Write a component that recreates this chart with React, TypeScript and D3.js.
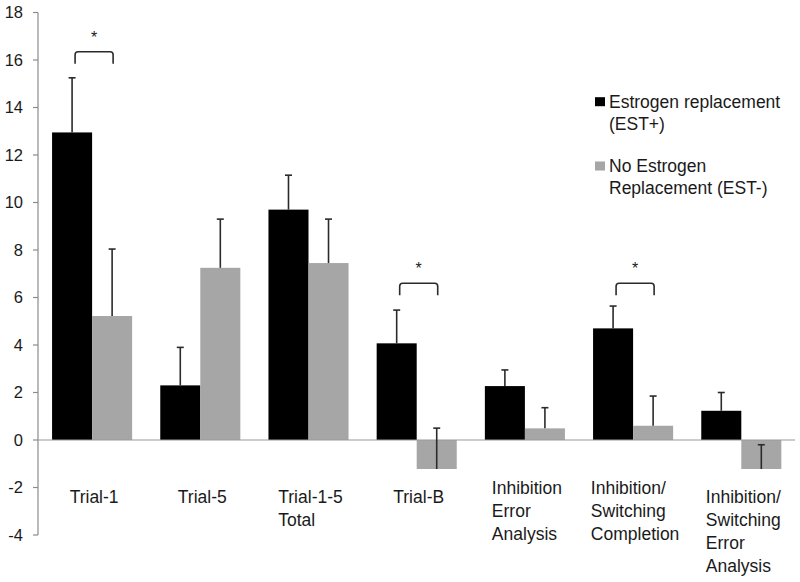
import React from "react";
import * as d3 from "d3";

const categories = [
  "Trial-1",
  "Trial-5",
  "Trial-1-5 Total",
  "Trial-B",
  "Inhibition Error Analysis",
  "Inhibition/ Switching Completion",
  "Inhibition/ Switching Error Analysis",
];
const categoryLines = [
  ["Trial-1"],
  ["Trial-5"],
  ["Trial-1-5", "Total"],
  ["Trial-B"],
  ["Inhibition", "Error", "Analysis"],
  ["Inhibition/", "Switching", "Completion"],
  ["Inhibition/", "Switching", "Error", "Analysis"],
];
const seriesNames = ["Estrogen replacement (EST+)", "No Estrogen Replacement (EST-)"];
const legendLines = [
  ["Estrogen replacement", "(EST+)"],
  ["No Estrogen", "Replacement (EST-)"],
];
const estPlus = [12.95, 2.3, 9.7, 4.07, 2.27, 4.7, 1.23];
const estPlusErr = [2.3, 1.6, 1.45, 1.4, 0.68, 0.94, 0.77];
const estMinus = [5.22, 7.25, 7.45, -1.22, 0.49, 0.6, -1.22];
const estMinusErr = [2.82, 2.05, 1.85, 1.72, 0.87, 1.25, 1.02];
const yTicks = [-4, -2, 0, 2, 4, 6, 8, 10, 12, 14, 16, 18];
const sigCategories = ["Trial-1", "Trial-B", "Inhibition/ Switching Completion"];
const sigLevels = [16.35, 6.6, 6.6];

const W = 800;
const H = 582;
const FONT = "'Liberation Sans', Arial, sans-serif";
const FS = 17.5;
const TICK_FS = 16.5;

let measureCtx: CanvasRenderingContext2D | null = null;
function textWidth(s: string) {
  if (!measureCtx) {
    const c = document.createElement("canvas");
    measureCtx = c.getContext("2d");
  }
  if (!measureCtx) return s.length * FS * 0.5;
  measureCtx.font = `${FS}px ${FONT}`;
  return measureCtx.measureText(s).width;
}

export default function App() {
  const y = d3.scaleLinear().domain([-4, 18]).range([535, 12.5]);
  const x = d3
    .scaleBand<string>()
    .domain(categories)
    .range([38, 795.4])
    .paddingInner(0.26)
    .paddingOuter(0.13);
  const xs = d3.scaleBand<string>().domain(["plus", "minus"]).range([0, x.bandwidth()]);
  const series = [
    { key: "plus", values: estPlus, errs: estPlusErr, color: "#000000" },
    { key: "minus", values: estMinus, errs: estMinusErr, color: "#a6a6a6" },
  ];
  const capW = 7;

  return (
    <svg
      width={W}
      height={H}
      style={{ position: "absolute", left: 0, top: 0, display: "block", background: "#fff" }}
      fontFamily={FONT}
    >
      <rect x={0} y={0} width={W} height={H} fill="#fff" />
      {/* bars */}
      {series.map((s) =>
        categories.map((c, i) => {
          const v = s.values[i];
          const bx = (x(c) as number) + (xs(s.key) as number);
          return (
            <rect
              key={s.key + c}
              x={bx}
              y={y(Math.max(0, v))}
              width={xs.bandwidth()}
              height={Math.abs(y(v) - y(0))}
              fill={s.color}
            />
          );
        })
      )}
      {/* zero line */}
      <line x1={38} x2={795} y1={y(0)} y2={y(0)} stroke="#9a9a9a" strokeWidth={1.2} />
      {/* error bars */}
      {series.map((s) =>
        categories.map((c, i) => {
          const v = s.values[i];
          const e = s.errs[i];
          const cx = (x(c) as number) + (xs(s.key) as number) + xs.bandwidth() / 2;
          return (
            <g key={"e" + s.key + c} stroke="#2b2b2b" strokeWidth={1.6}>
              <line x1={cx} x2={cx} y1={y(v)} y2={y(v + e)} />
              <line x1={cx - capW / 2} x2={cx + capW / 2} y1={y(v + e)} y2={y(v + e)} />
            </g>
          );
        })
      )}
      {/* y axis */}
      <line x1={38} x2={38} y1={y(18)} y2={y(-4)} stroke="#8c8c8c" strokeWidth={1.2} />
      {yTicks.map((t) => (
        <g key={"t" + t}>
          <line x1={33} x2={38} y1={y(t)} y2={y(t)} stroke="#8c8c8c" strokeWidth={1.2} />
          <text x={23} y={y(t)} dy="0.36em" textAnchor="end" fontSize={TICK_FS} fill="#1a1a1a">
            {t}
          </text>
        </g>
      ))}
      {/* category labels */}
      {categories.map((c, i) => {
        const lines = categoryLines[i];
        const maxW = d3.max(lines, (l) => textWidth(l)) || 0;
        const cx = (x(c) as number) + x.bandwidth() / 2;
        const left = cx - maxW / 2 + 2;
        const firstY = lines.length === 3 ? 488 : 497;
        return (
          <text key={"c" + c} fontSize={FS} fill="#1a1a1a">
            {lines.map((l, j) => (
              <tspan key={j} x={left} y={firstY + j * 23} dy="0.36em">
                {l}
              </tspan>
            ))}
          </text>
        );
      })}
      {/* significance brackets */}
      {sigCategories.map((c, i) => {
        const b0 = x(c) as number;
        const x1 = b0 + (xs("plus") as number) + xs.bandwidth() / 2 + 3;
        const x2 = b0 + (xs("minus") as number) + xs.bandwidth() / 2 + 1;
        const top = y(sigLevels[i]);
        const h = 12;
        const r = 3;
        const d = `M${x1},${top + h} L${x1},${top + r} Q${x1},${top} ${x1 + r},${top} L${x2 - r},${top} Q${x2},${top} ${x2},${top + r} L${x2},${top + h}`;
        return (
          <g key={"s" + c}>
            <path d={d} fill="none" stroke="#2b2b2b" strokeWidth={1.6} />
            <text x={(x1 + x2) / 2} y={top - 19} dy="0.62em" textAnchor="middle" fontSize={16} fill="#1a1a1a">
              *
            </text>
          </g>
        );
      })}
      {/* legend */}
      {seriesNames.map((n, i) => {
        const baseY = i === 0 ? 101.7 : 166;
        return (
          <g key={"l" + n}>
            <rect x={595} y={baseY - 4.5} width={10} height={9} fill={series[i].color} />
            <text fontSize={FS} fill="#1a1a1a">
              {legendLines[i].map((l, j) => (
                <tspan key={j} x={609} y={baseY + j * 21.5} dy="0.36em">
                  {l}
                </tspan>
              ))}
            </text>
          </g>
        );
      })}
    </svg>
  );
}
